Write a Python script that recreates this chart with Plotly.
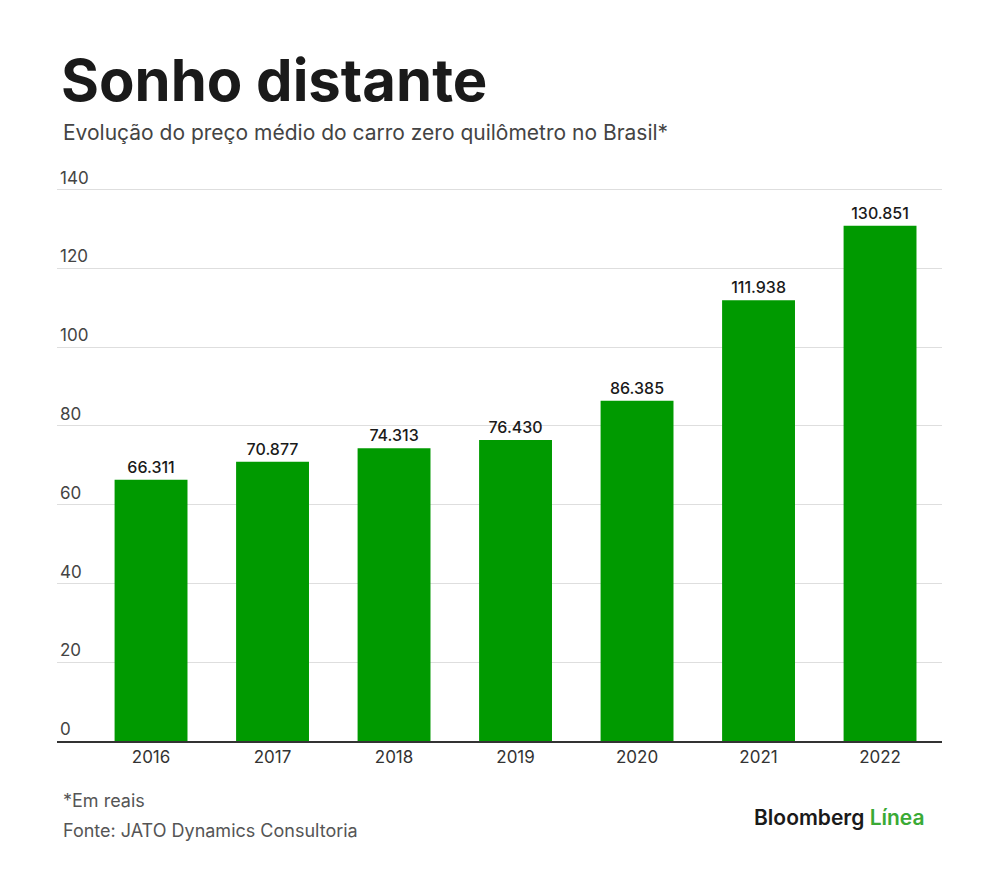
import plotly.graph_objects as go

years = ["2016", "2017", "2018", "2019", "2020", "2021", "2022"]
prices = [66.311, 70.877, 74.313, 76.430, 86.385, 111.938, 130.851]
labels = ["66.311", "70.877", "74.313", "76.430", "86.385", "111.938", "130.851"]
y_ticks = [0, 20, 40, 60, 80, 100, 120, 140]

FONT = "Inter"
H = 574.6  # plot height in px
def py(screen_y):
    return (741 - screen_y) / H

fig = go.Figure()
fig.add_trace(go.Bar(
    x=list(range(len(years))), y=prices,
    text=labels, textposition="outside", cliponaxis=False,
    textfont=dict(family=FONT, size=16, color="#1a1a1a", weight=500),
    marker=dict(color="#009a00", line=dict(width=0)),
    width=0.6, hoverinfo="skip",
))

fig.update_layout(
    width=1000, height=872,
    margin=dict(l=49, r=66, t=158, b=139),
    paper_bgcolor="white", plot_bgcolor="white",
    showlegend=False,
    font=dict(family=FONT, color="#333"),
    xaxis=dict(
        tickmode="array", tickvals=list(range(len(years))), ticktext=years,
        range=[-0.774, 6.51], showgrid=False, zeroline=False,
        showline=True, linecolor="#333", linewidth=2,
        ticks="", tickfont=dict(family=FONT, size=17, color="#333"),
    ),
    yaxis=dict(
        range=[0, 146], tickvals=y_ticks, showgrid=True, gridcolor="#dedede",
        gridwidth=1, zeroline=False, showline=False, ticks="",
        ticklabelposition="inside top",
        tickfont=dict(family=FONT, size=17, color="#444"),
    ),
    annotations=[
        dict(text="<b>Sonho distante</b>", xref="paper", yref="paper",
             x=0.002, y=py(80), xanchor="left", yanchor="middle", showarrow=False,
             font=dict(family=FONT, size=58, color="#1a1a1a")),
        dict(text="Evolução do preço médio do carro zero quilômetro no Brasil*",
             xref="paper", yref="paper", x=0.004, y=py(133), xanchor="left",
             yanchor="middle", showarrow=False,
             font=dict(family=FONT, size=21, color="#444")),
        dict(text="*Em reais", xref="paper", yref="paper", x=0.004, y=py(800),
             xanchor="left", yanchor="middle", showarrow=False,
             font=dict(family=FONT, size=18, color="#555")),
        dict(text="Fonte: JATO Dynamics Consultoria", xref="paper", yref="paper",
             x=0.004, y=py(830), xanchor="left", yanchor="middle", showarrow=False,
             font=dict(family=FONT, size=18, color="#555")),
        dict(text="Bloomberg <span style='color:#3aaa35'>Línea</span>",
             xref="paper", yref="paper", x=0.983, y=py(817), xanchor="right",
             yanchor="middle", showarrow=False,
             font=dict(family=FONT, size=21, color="#1a1a1a", weight=600)),
    ],
)

fig.write_html("out.html")
